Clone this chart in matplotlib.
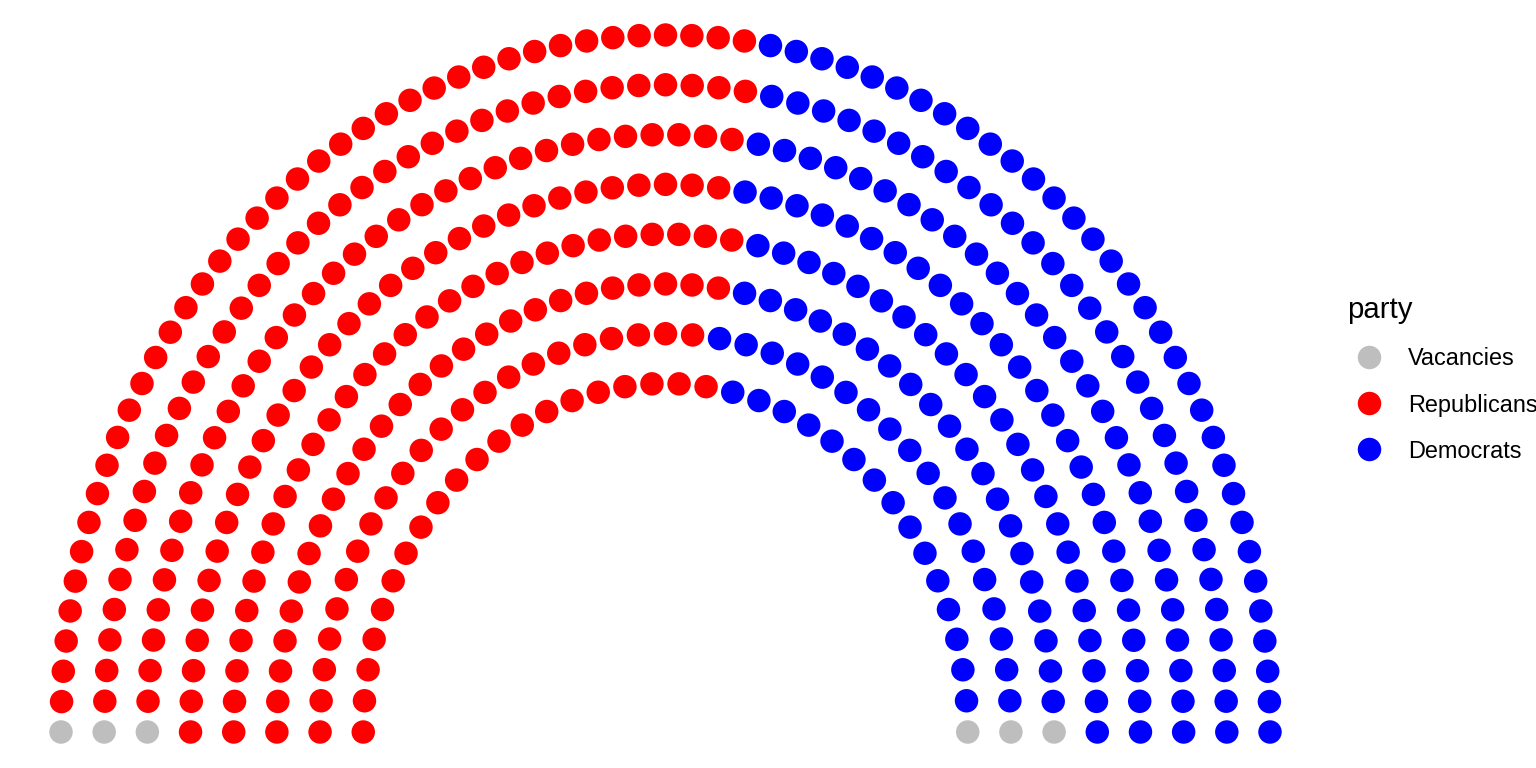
import numpy as np
import matplotlib
matplotlib.use("Agg")
import matplotlib.pyplot as plt
from matplotlib.lines import Line2D

# ---- data ----
parties = ["Vacancies", "Republicans", "Democrats"]
party_colors = ["#BEBEBE", "#FF0000", "#0000FF"]
# seat assignment in seating order (left -> right)
seat_order_party = ["Vacancies", "Republicans", "Democrats", "Vacancies"]
seat_order_count = [3, 236, 193, 3]
# seats per row, inner -> outer
row_seats = [36, 41, 47, 52, 57, 62, 67, 73]
legend_title = "party"

plt.rcParams['font.family'] = ['Liberation Sans', 'DejaVu Sans']

W, H = 1536, 768
fig = plt.figure(figsize=(8, 4), dpi=192)
ax = fig.add_axes([61 / W, 36 / H, (1270 - 61) / W, (733 - 36) / H])

nrows = len(row_seats)
radii = np.linspace(1, 2, nrows)
xs, ys, th, rw = [], [], [], []
for i, (r, n) in enumerate(zip(radii, row_seats)):
    t = np.linspace(0, np.pi, n)
    xs.append(r * np.cos(t))
    ys.append(r * np.sin(t))
    th.append(t)
    rw.append(np.full(n, i))
xs = np.concatenate(xs); ys = np.concatenate(ys)
th = np.concatenate(th); rw = np.concatenate(rw)

order = np.lexsort((-rw, -th))
labels = np.empty(len(xs), dtype=object)
labels[order] = np.repeat(seat_order_party, seat_order_count)

dot_pt = 8.8
for p, c in zip(parties, party_colors):
    m = labels == p
    ax.scatter(xs[m], ys[m], s=dot_pt ** 2, c=c, edgecolors='none', clip_on=False)

ax.set_xlim(-2, 2)
ax.set_ylim(0, 2)
ax.axis('off')

handles = [Line2D([0], [0], marker='o', linestyle='none', markersize=dot_pt,
                  markerfacecolor=c, markeredgecolor='none') for c in party_colors]
leg = fig.legend(handles, parties, loc='center left',
                 bbox_to_anchor=(1347 / W, 1 - 405 / H), frameon=False,
                 fontsize=8.8, borderpad=0, borderaxespad=0,
                 handlelength=1.875, handletextpad=0.72, labelspacing=0.984)
fig.text(1347 / W, 1 - 318 / H, legend_title, fontsize=11, va='baseline', ha='left')

fig.savefig("out.png", dpi=192)
